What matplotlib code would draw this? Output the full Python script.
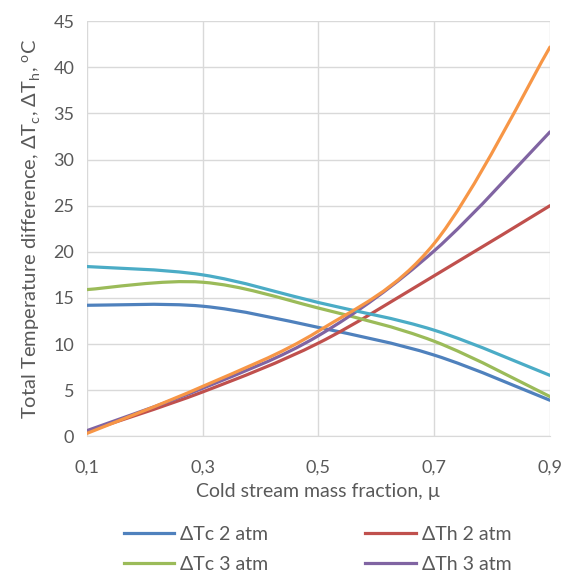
import numpy as np
import matplotlib.pyplot as plt
from matplotlib.path import Path
from matplotlib.patches import PathPatch
from matplotlib.lines import Line2D

plt.rcParams['font.family'] = ['Lato', 'DejaVu Sans']
plt.rcParams['mathtext.fontset'] = 'custom'
plt.rcParams['mathtext.rm'] = 'Lato'

mu = [0.1, 0.3, 0.5, 0.7, 0.9]
dtc_2 = [14.2, 14.1, 11.8, 8.8, 3.9]
dth_2 = [0.5, 4.8, 10.1, 17.4, 25.0]
dtc_3 = [15.9, 16.7, 13.9, 10.3, 4.3]
dth_3 = [0.6, 5.2, 10.9, 20.1, 33.0]
dtc_4 = [18.4, 17.5, 14.5, 11.5, 6.6]
dth_4 = [0.3, 5.4, 11.4, 20.9, 42.2]

names = ['ΔTc 2 atm', 'ΔTh 2 atm', 'ΔTc 3 atm', 'ΔTh 3 atm', 'ΔTc 4 atm', 'ΔTh 4 atm']
series = [dtc_2, dth_2, dtc_3, dth_3, dtc_4, dth_4]
colors = ['#4F81BD', '#C0504D', '#9BBB59', '#8064A2', '#4BACC6', '#F79646']
xticks = [0.1, 0.3, 0.5, 0.7, 0.9]
xticklabels = ['0,1', '0,3', '0,5', '0,7', '0,9']
yticks = list(range(0, 50, 5))


def smooth_path(x, y):
    # excel-like smoothed line: cubic bezier through the points
    p = np.column_stack([x, y]).astype(float)
    n = len(p)
    verts = [p[0]]
    codes = [Path.MOVETO]
    for i in range(n - 1):
        p0 = p[i - 1] if i > 0 else p[i]
        p3 = p[i + 2] if i + 2 < n else p[i + 1]
        c1 = p[i] + (p[i + 1] - p0) / 6
        c2 = p[i + 1] - (p3 - p[i]) / 6
        verts += [c1, c2, p[i + 1]]
        codes += [Path.CURVE4] * 3
    return Path(verts, codes)


fig = plt.figure(figsize=(5.67, 5.74), dpi=100)
ax = fig.add_axes([0.153, 0.240, 0.817, 0.723])

for y, c in zip(series, colors):
    ax.add_patch(PathPatch(smooth_path(mu, y), facecolor='none', edgecolor=c,
                           lw=2.3, capstyle='round', joinstyle='round'))

ax.set_xlim(0.1, 0.9)
ax.set_ylim(0, 45)
ax.set_xticks(xticks)
ax.set_xticklabels(xticklabels)
ax.set_yticks(yticks)
ax.grid(True, color='#D9D9D9', lw=1)
ax.set_axisbelow(True)
for s in ['top', 'right', 'left']:
    ax.spines[s].set_visible(False)
ax.spines['bottom'].set_color('#D9D9D9')
ax.tick_params(length=0, labelsize=13, colors='#595959')
ax.tick_params(axis='x', pad=17)
ax.tick_params(axis='y', pad=9)
ax.set_xlabel('Cold stream mass fraction, µ', fontsize=14, color='#595959', labelpad=5)
ax.set_ylabel(r'Total Temperature difference, ΔT$_\mathregular{c}$, ΔT$_\mathregular{h}$, $^\mathregular{o}$C',
              fontsize=14.5, color='#595959', labelpad=8)

# legend rows: (ΔTc 2, ΔTh 2), (ΔTc 3, ΔTh 3)
order = [0, 2, 1, 3]
handles = [Line2D([], [], color=colors[i], lw=2.3) for i in order]
fig.legend(handles, [names[i] for i in order], ncol=2, loc='lower center',
           bbox_to_anchor=(0.56, -0.028), frameon=False, fontsize=14,
           labelcolor='#595959', handlelength=2.6, handletextpad=0.3,
           columnspacing=5.0, labelspacing=0.65)

fig.savefig('out.png', dpi=100)
